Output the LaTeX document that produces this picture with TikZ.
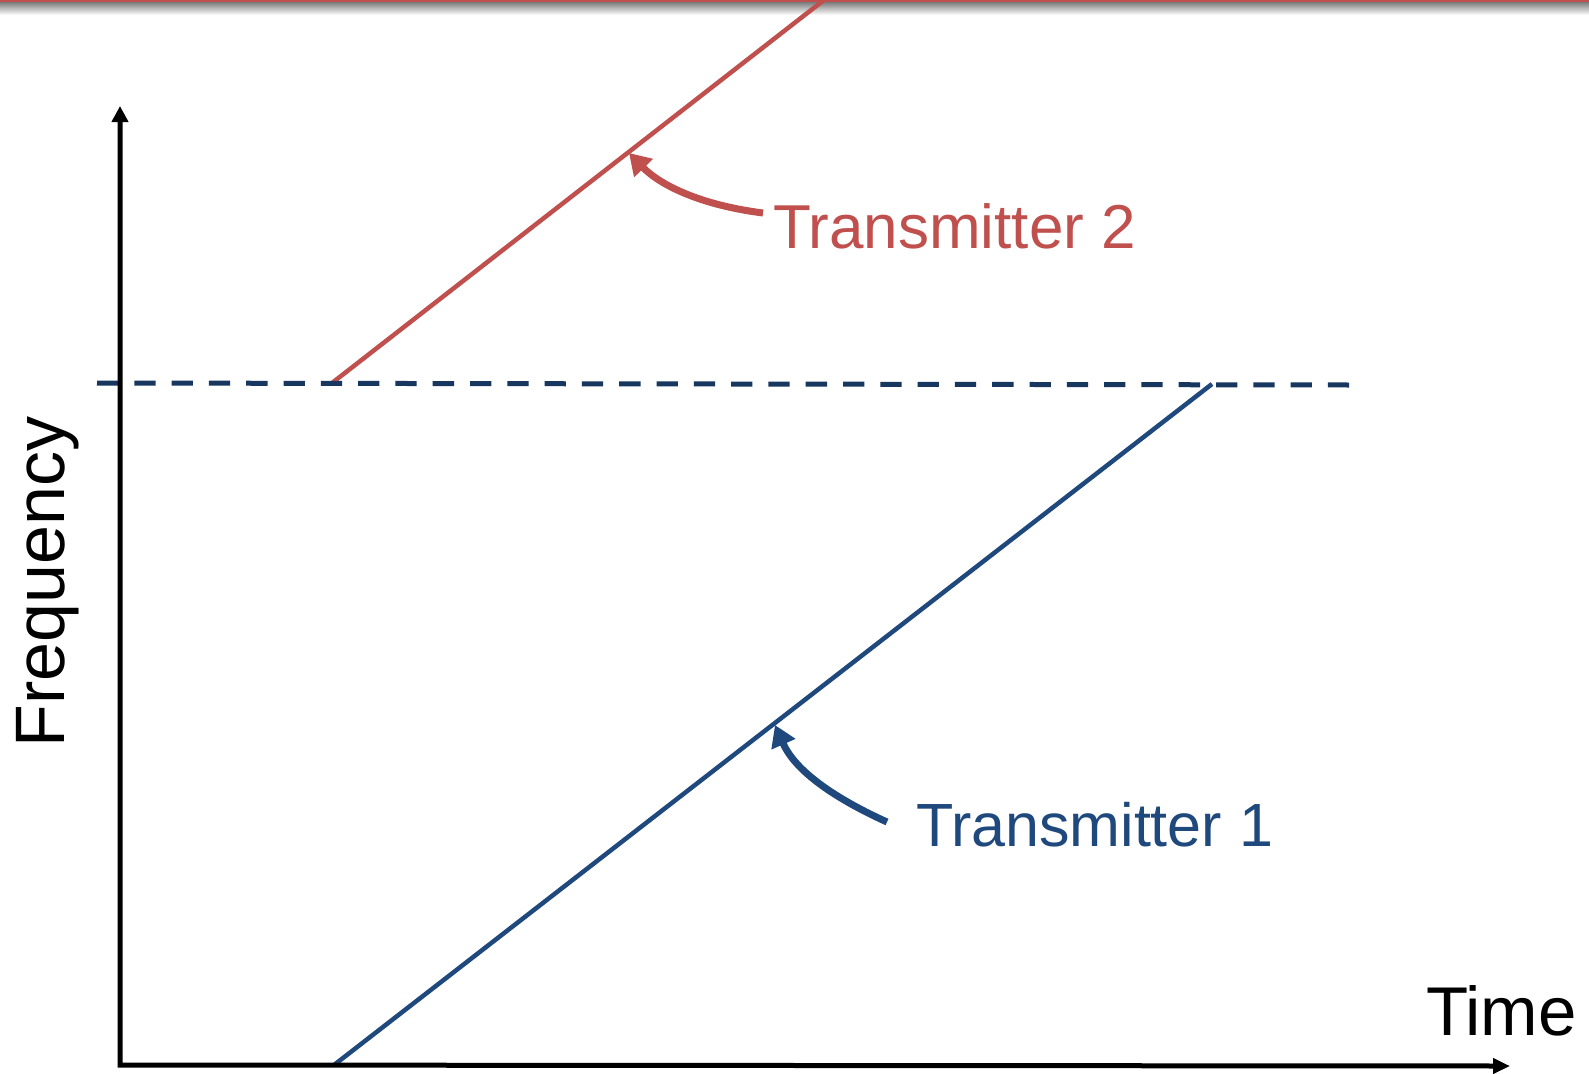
\documentclass[tikz,border=0pt]{standalone}
\usepackage{fontspec}
\setmainfont{Liberation Sans}
\usetikzlibrary{arrows.meta}
\definecolor{tred}{HTML}{C0504D}
\definecolor{tblue}{HTML}{1F497D}
\definecolor{tnavy}{HTML}{17375E}
\begin{document}
\begin{tikzpicture}[x=1pt,y=-1pt,
  axisline/.style={line width=5pt, black, line join=miter},
  chirp/.style={line width=4.5pt},
  pointer/.style={line width=7pt, -{Triangle[length=21pt,width=25pt]}},
  lbl/.style={inner sep=0pt, outer sep=0pt}
]
\useasboundingbox (0,0) rectangle (1589,1073);
\fill[white] (0,0) rectangle (1589,1073);
% top bar with shadow
\shade[top color=black!50, bottom color=white] (0,2.5) rectangle (1589,15);
% coordinates
\coordinate (o) at (120,1065);
\coordinate (ytop) at (120,106);
\coordinate (xend) at (1510,1066);
\coordinate (d1) at (97,383);
\coordinate (d2) at (1350,385);
\coordinate (r1) at (332,383);
\coordinate (r2) at (824,0);
\coordinate (b1) at (334,1065);
\coordinate (b2) at (1212,384);
\coordinate (tip2) at (629,153);
\coordinate (tail2) at (763,213);
\coordinate (tip1) at (775,725);
\coordinate (tail1) at (887,822);
% red chirp
\draw[chirp, tred] (r1) -- (r2);
\fill[tred] (0,0) rectangle (1589,2.5);
% dashed threshold
\draw[tnavy, line width=5pt, dash pattern=on 21.3pt off 16pt] (d1) -- (d2);
% blue chirp
\draw[chirp, tblue] (b1) -- (b2);
% axes
\draw[axisline, {Triangle[length=16pt,width=16pt]}-{Triangle[length=17pt,width=15pt]}] (ytop) -- (o) -- (xend);
% labels
\node[lbl, tred, anchor=base west, font=\fontsize{62}{62}\selectfont] (t2) at (773,248) {Transmitter 2};
\node[lbl, tblue, anchor=base west, font=\fontsize{61}{61}\selectfont] (t1) at (916,846) {Transmitter 1};
\node[lbl, anchor=base west, font=\fontsize{69}{69}\selectfont] (time) at (1426,1035) {Time};
\node[lbl, rotate=90, anchor=base, font=\fontsize{70}{70}\selectfont] (freq) at (64,582) {Frequency};
% pointers
\draw[pointer, tred] (tail2) .. controls (700,205) and (660,185) .. (tip2);
\draw[pointer, tblue] (tail1) .. controls (845,803) and (797,775) .. (tip1);
\end{tikzpicture}
\end{document}
